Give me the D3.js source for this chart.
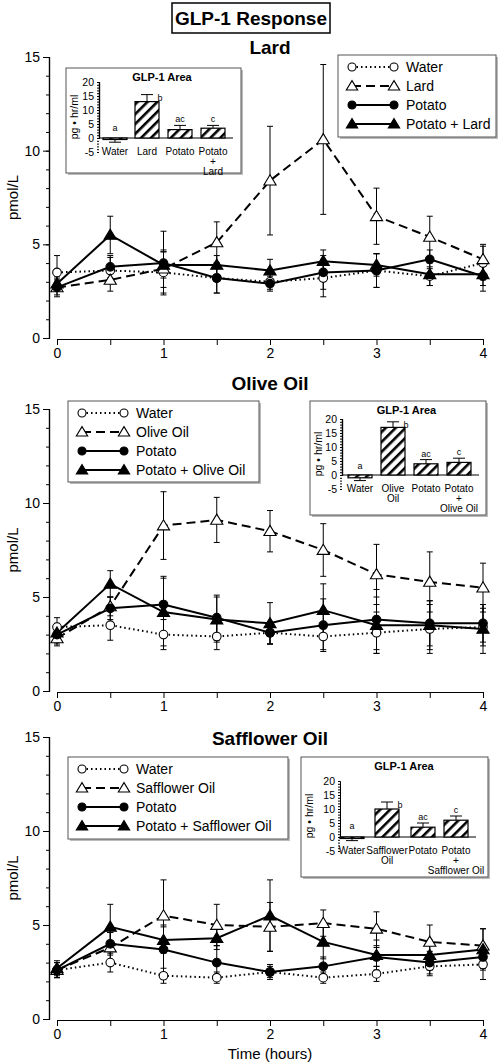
<!DOCTYPE html>
<html><head><meta charset="utf-8">
<script src="https://cdn.jsdelivr.net/npm/d3@7"></script>
<style>body{margin:0;background:#fff}text{font-family:"Liberation Sans",Arial,sans-serif}.nar{font-family:"Liberation Sans Narrow","Arial Narrow","Liberation Sans",sans-serif}</style>
</head><body><svg id="c" width="500" height="1064"></svg>
<script>
const times=[0,0.5,1,1.5,2,2.5,3,3.5,4];
const panelNames=["Lard","Olive Oil","Safflower Oil"];
const lardWater=[3.5,3.6,3.5,3.2,3.0,3.2,3.6,3.3,4.0], lardWaterE=[0.9,0.7,1.1,0.8,0.4,1.0,0.9,0.5,0.9];
const lardFat=[2.7,3.1,3.7,5.1,8.4,10.6,6.5,5.4,4.2], lardFatE=[0.4,0.6,1.0,1.1,2.9,4.0,1.5,1.1,0.8];
const lardPot=[2.7,3.8,4.0,3.2,2.9,3.5,3.6,4.2,3.3], lardPotE=[0.5,0.6,1.7,0.8,0.4,0.9,0.9,0.5,0.8];
const lardMix=[2.9,5.5,3.9,3.9,3.6,4.1,3.9,3.4,3.4], lardMixE=[0.4,1.0,0.7,0.5,0.6,0.6,0.6,0.6,0.6];
const oliveWater=[3.4,3.5,3.0,2.9,3.1,2.9,3.1,3.3,3.4], oliveWaterE=[0.5,0.8,0.8,0.7,0.6,0.7,1.1,1.3,1.0];
const oliveFat=[2.8,4.5,8.8,9.1,8.5,7.5,6.2,5.8,5.5], oliveFatE=[0.4,0.5,1.8,1.2,1.1,1.4,1.6,1.6,1.3];
const olivePot=[3.0,4.4,4.6,3.9,3.1,3.5,3.8,3.6,3.6], olivePotE=[0.5,0.6,1.5,1.2,0.6,1.4,1.6,1.2,1.0];
const oliveMix=[3.1,5.7,4.2,3.8,3.6,4.3,3.5,3.5,3.3], oliveMixE=[0.5,0.7,1.8,1.2,1.1,1.4,1.5,1.3,1.3];
const saffWater=[2.6,3.0,2.3,2.2,2.5,2.2,2.4,2.8,2.9], saffWaterE=[0.4,0.5,0.4,0.3,0.3,0.3,0.4,0.5,0.8];
const saffFat=[2.6,3.8,5.5,5.0,4.9,5.1,4.8,4.1,3.9], saffFatE=[0.4,0.8,1.9,1.1,1.3,0.7,0.9,0.9,0.9];
const saffPot=[2.6,4.0,3.7,3.0,2.5,2.8,3.3,3.0,3.3], saffPotE=[0.4,0.6,1.3,0.9,0.4,0.5,0.5,0.6,0.6];
const saffMix=[2.7,4.9,4.2,4.3,5.5,4.1,3.4,3.4,3.7], saffMixE=[0.4,1.2,0.7,0.6,1.9,0.9,0.8,0.8,1.1];
const insetCats=[["Water"],["Lard"],["Potato"],["Potato","+","Lard"]];
const insetCatsO=[["Water"],["Olive","Oil"],["Potato"],["Potato","+","Olive Oil"]];
const insetCatsS=[["Water"],["Safflower","Oil"],["Potato"],["Potato","+","Safflower Oil"]];
const insetLetters=["a","b","ac","c"];
const lardArea=[-0.5,13,3,3.5], lardAreaE=[1,2.5,1.5,1];
const oliveArea=[-1,17,4,4.5], oliveAreaE=[1,2,1.5,1.5];
const saffArea=[-0.3,10,3.5,6], saffAreaE=[1,2.5,1.5,1.5];
const yTicks=[0,5,10,15], xTicks=[0,1,2,3,4], insetTicks=[-5,0,5,10,15,20];

const svg=d3.select("#c");
const defs=svg.append("defs");
const pat=defs.append("pattern").attr("id","hatch").attr("patternUnits","userSpaceOnUse").attr("width",7).attr("height",7).attr("patternTransform","rotate(45)");
pat.append("rect").attr("width",7).attr("height",7).attr("fill","#fff");
pat.append("rect").attr("width",2.6).attr("height",7).attr("fill","#000");

svg.append("rect").attr("x",172).attr("y",3).attr("width",158).attr("height",30).attr("fill","#fff").attr("stroke","#000").attr("stroke-width",1.5);
svg.append("text").attr("x",251).attr("y",25).attr("text-anchor","middle").attr("font-size",19).attr("font-weight","bold").text("GLP-1 Response");

const panels=[
 {top:57,bot:338,title:48,series:[lardWater,lardFat,lardPot,lardMix],errs:[lardWaterE,lardFatE,lardPotE,lardMixE],
  leg:{x:338,y:55,w:158,h:82,labels:["Water","Lard","Potato","Potato + Lard"]},
  inset:{x:66,y:68,w:175,h:105,ax:99,y20:82,y0:138,cx:[115,147,180,213],cats:insetCats,vals:lardArea,errs:lardAreaE}},
 {top:409,bot:691,title:384,series:[oliveWater,oliveFat,olivePot,oliveMix],errs:[oliveWaterE,oliveFatE,olivePotE,oliveMixE],
  leg:{x:68,y:401,w:191,h:81,labels:["Water","Olive Oil","Potato","Potato + Olive Oil"]},
  inset:{x:310,y:401,w:176,h:114,ax:342,y20:419,y0:475,cx:[360,393,426,459],cats:insetCatsO,vals:oliveArea,errs:oliveAreaE}},
 {top:737,bot:1019,title:739,series:[saffWater,saffFat,saffPot,saffMix],errs:[saffWaterE,saffFatE,saffPotE,saffMixE],
  leg:{x:68,y:757,w:220,h:82,labels:["Water","Safflower Oil","Potato","Potato + Safflower Oil"]},
  inset:{x:301,y:757,w:187,h:120,ax:340,y20:781,y0:837,cx:[352,387,423,456],cats:insetCatsS,vals:saffArea,errs:saffAreaE}}
];
const dashes=["1.5,3","9,5",null,null];
const markers=[{t:"circle",f:"#fff"},{t:"tri",f:"#fff"},{t:"circle",f:"#000"},{t:"tri",f:"#000"}];
function marker(g,m,x,y,r){
  if(m.t==="circle") g.append("circle").attr("cx",x).attr("cy",y).attr("r",r||4.3).attr("fill",m.f).attr("stroke","#000").attr("stroke-width",1.1);
  else {const s=(r||4.3)*1.35; g.append("path").attr("d",`M${x},${y-s}L${x+s*1.05},${y+s*0.75}L${x-s*1.05},${y+s*0.75}Z`).attr("fill",m.f).attr("stroke","#000").attr("stroke-width",1.1);}
}
const x=d3.scaleLinear().domain([0,4]).range([57,483]);
panels.forEach((p,pi)=>{
  const y=d3.scaleLinear().domain([0,15]).range([p.bot,p.top]);
  svg.append("text").attr("x",270).attr("y",p.title+6).attr("text-anchor","middle").attr("font-size",19).attr("font-weight","bold").text(panelNames[pi]);
  const ya=svg.append("g").attr("transform","translate(49,0)").call(d3.axisLeft(y).tickValues(yTicks).tickSize(6).tickSizeOuter(0));
  svg.append("g").attr("transform","translate(49,0)").call(d3.axisLeft(y).tickValues(d3.range(0,16)).tickSize(3).tickFormat(""));
  ya.selectAll("text").attr("font-size",14).attr("font-family","Liberation Sans");
  const xa=svg.append("g").attr("transform",`translate(0,${p.bot+1})`).call(d3.axisBottom(x).tickValues(times).tickSize(6).tickSizeOuter(0).tickFormat(d=>xTicks.includes(d)?d:""));
  xa.selectAll("text").attr("font-size",14).attr("font-family","Liberation Sans");
  svg.selectAll(".domain").attr("stroke-width",1.2);
  svg.append("text").attr("transform",`translate(18,${(p.top+p.bot)/2}) rotate(-90)`).attr("text-anchor","middle").attr("font-size",15).text("pmol/L");
  const g=svg.append("g");
  p.series.forEach((s,i)=>{
    const e=p.errs[i];
    times.forEach((t,j)=>{
      g.append("line").attr("x1",x(t)).attr("x2",x(t)).attr("y1",y(s[j]-e[j])).attr("y2",y(s[j]+e[j])).attr("stroke","#000").attr("stroke-width",1);
      [s[j]-e[j],s[j]+e[j]].forEach(v=>g.append("line").attr("x1",x(t)-3).attr("x2",x(t)+3).attr("y1",y(v)).attr("y2",y(v)).attr("stroke","#000"));
    });
    g.append("path").datum(s).attr("d",d3.line().x((d,j)=>x(times[j])).y(d=>y(d))).attr("fill","none").attr("stroke","#000").attr("stroke-width",2).attr("stroke-dasharray",dashes[i]);
  });
  p.series.forEach((s,i)=>times.forEach((t,j)=>marker(g,markers[i],x(t),y(s[j]))));
  const L=p.leg;
  svg.append("rect").attr("x",L.x+2).attr("y",L.y+2).attr("width",L.w).attr("height",L.h).attr("fill","#bbb");
  svg.append("rect").attr("x",L.x).attr("y",L.y).attr("width",L.w).attr("height",L.h).attr("fill","#fff").attr("stroke","#555");
  L.labels.forEach((lab,i)=>{
    const yy=L.y+12+i*19;
    svg.append("line").attr("x1",L.x+14).attr("x2",L.x+56).attr("y1",yy).attr("y2",yy).attr("stroke","#000").attr("stroke-width",2).attr("stroke-dasharray",dashes[i]);
    marker(svg,markers[i],L.x+14,yy,4);marker(svg,markers[i],L.x+56,yy,4);
    svg.append("text").attr("x",L.x+68).attr("y",yy+5).attr("font-size",14).text(lab);
  });
  const I=p.inset;
  svg.append("rect").attr("x",I.x+2).attr("y",I.y+2).attr("width",I.w).attr("height",I.h).attr("fill","#bbb");
  svg.append("rect").attr("x",I.x).attr("y",I.y).attr("width",I.w).attr("height",I.h).attr("fill","#fff").attr("stroke","#555");
  const iy=d3.scaleLinear().domain([0,20]).range([I.y0,I.y20]);
  svg.append("text").attr("x",(I.ax+I.cx[3]+20)/2-4).attr("y",I.y+13).attr("text-anchor","middle").attr("font-size",11).attr("font-weight","bold").text("GLP-1 Area");
  const ia=svg.append("g").attr("transform",`translate(${I.ax},0)`).call(d3.axisLeft(iy).tickValues(insetTicks).tickSize(0).tickSizeOuter(0));
  svg.append("g").attr("transform",`translate(${I.ax},0)`).call(d3.axisLeft(iy).tickValues(d3.range(-5,21)).tickSize(2).tickFormat(""));
  ia.selectAll("text").attr("font-size",10.5).attr("dx",-2).attr("font-family","Liberation Sans").text(d=>d<0?"-5":d);
  svg.append("line").attr("x1",I.ax).attr("x2",I.cx[3]+20).attr("y1",iy(0)).attr("y2",iy(0)).attr("stroke","#000");
  svg.append("text").attr("transform",`translate(${I.x+12},${iy(7.5)}) rotate(-90)`).attr("text-anchor","middle").attr("font-size",10.5).text("pg • hr/ml");
  I.vals.forEach((v,k)=>{
    const cx=I.cx[k],bw=24,top=iy(Math.max(v,0));
    svg.append("rect").attr("x",cx-bw/2).attr("y",top).attr("width",bw).attr("height",Math.max(1.5,Math.abs(iy(v)-iy(0)))).attr("fill","url(#hatch)").attr("stroke","#000").attr("stroke-width",1.2);
    const et=v>=0?v+I.errs[k]:v-I.errs[k];
    svg.append("line").attr("x1",cx).attr("x2",cx).attr("y1",iy(v)).attr("y2",iy(et)).attr("stroke","#000");
    svg.append("line").attr("x1",cx-6).attr("x2",cx+6).attr("y1",iy(et)).attr("y2",iy(et)).attr("stroke","#000");
    const ly=iy(Math.max(v+I.errs[k],0))-3;
    svg.append("text").attr("x",k===1?cx+13:cx).attr("y",k===1?iy(v+I.errs[k])+6:ly-(v<1?3:0)).attr("text-anchor","middle").attr("font-size",9).text(insetLetters[k]);
    I.cats[k].forEach((c,m)=>svg.append("text").attr("class","nar").attr("x",cx).attr("y",iy(-5)+3+m*10).attr("text-anchor","middle").attr("font-size",10).text(c));
  });
});
svg.append("text").attr("x",270).attr("y",1059).attr("text-anchor","middle").attr("font-size",15).text("Time (hours)");
</script></body></html>
